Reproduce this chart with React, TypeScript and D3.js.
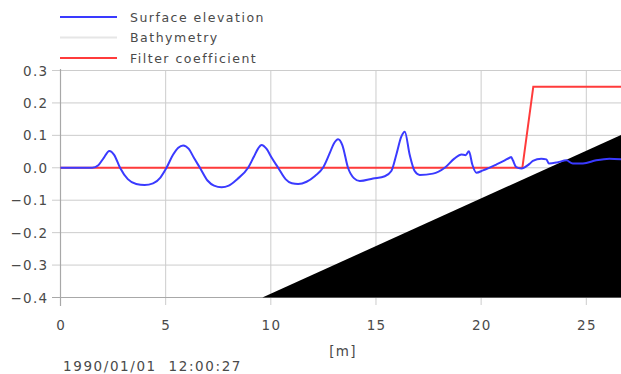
import React from "react";
import * as d3 from "d3";

const xTicks = [0, 5, 10, 15, 20, 25];
const yTicks = [0.3, 0.2, 0.1, 0.0, -0.1, -0.2, -0.3, -0.4];
const yTickLabels = ["0.3", "0.2", "0.1", "0.0", "\u22120.1", "\u22120.2", "\u22120.3", "\u22120.4"];

const surfX = [0, 1.5, 1.8, 2.05, 2.32, 2.55, 2.83, 3.2, 3.6, 4.0, 4.4, 4.75, 5.04, 5.35, 5.6, 5.83, 6.1, 6.35, 6.63, 7.0, 7.3, 7.66, 8.0, 8.4, 8.92, 9.2, 9.4, 9.56, 9.8, 10.05, 10.35, 10.7, 11.0, 11.3, 11.7, 12.1, 12.48, 12.8, 13.0, 13.2, 13.4, 13.67, 13.95, 14.23, 14.86, 15.42, 15.73, 15.97, 16.2, 16.37, 16.6, 16.84, 17.08, 17.71, 18.27, 18.74, 19.06, 19.26, 19.42, 19.58, 19.77, 20.09, 20.72, 21.1, 21.35, 21.43, 21.51, 21.67, 21.91, 22.3, 22.46, 22.86, 23.1, 23.22, 23.65, 24.05, 24.36, 24.84, 25.47, 26.1, 26.65];
const surfY = [0, 0, 0.008, 0.03, 0.052, 0.04, 0.0, -0.035, -0.05, -0.053, -0.048, -0.03, 0.0, 0.04, 0.062, 0.069, 0.058, 0.03, 0.0, -0.04, -0.055, -0.06, -0.055, -0.035, 0.0, 0.035, 0.06, 0.07, 0.058, 0.03, 0.0, -0.035, -0.048, -0.05, -0.043, -0.025, 0.0, 0.045, 0.075, 0.088, 0.07, 0.0, -0.032, -0.041, -0.033, -0.026, -0.01, 0.041, 0.095, 0.111, 0.041, -0.01, -0.022, -0.018, 0.0, 0.029, 0.041, 0.039, 0.051, 0.01, -0.015, -0.008, 0.01, 0.022, 0.031, 0.033, 0.023, 0.002, -0.002, 0.012, 0.021, 0.028, 0.026, 0.013, 0.017, 0.023, 0.013, 0.013, 0.023, 0.028, 0.026];

const filterX = [0, 21.96, 22.48, 26.65];
const filterY = [0, 0, 0.25, 0.25];

const bathyX = [9.6, 26.65];
const bathyY = [-0.4, 0.101];

const legendLabels = ["Surface elevation", "Bathymetry", "Filter coefficient"];
const legendColors = ["#3a3aff", "#e6e6e6", "#ff3b3b"];

export default function App() {
  const W = 621, H = 374;
  const x = d3.scaleLinear().domain([0, 26.65]).range([60.5, 621]);
  const y = d3.scaleLinear().domain([-0.4, 0.3]).range([297.5, 70.5]);
  const font = "'DejaVu Sans', sans-serif";
  const textColor = "#4a4a4a";
  const ls = 1.2;

  const surf = surfX.map((v, i) => [v, surfY[i]] as [number, number]);
  const filt = filterX.map((v, i) => [v, filterY[i]] as [number, number]);
  const lineGen = d3.line<[number, number]>().x(d => x(d[0])).y(d => y(d[1]));
  const smoothGen = d3.line<[number, number]>().x(d => x(d[0])).y(d => y(d[1])).curve(d3.curveMonotoneX);

  const bathyPts: [number, number][] = [[bathyX[0], bathyY[0]], [bathyX[1], bathyY[1]], [bathyX[1], -0.4]];
  const areaPath = "M" + bathyPts.map(p => `${x(p[0])},${y(p[1])}`).join("L") + "Z";

  return (
    <svg width={W} height={H} style={{ position: "absolute", left: 0, top: 0, background: "#fff" }}>
      {/* legend */}
      {legendLabels.map((l, i) => (
        <g key={l}>
          <line x1={60} x2={117} y1={17 + i * 20.5} y2={17 + i * 20.5} stroke={legendColors[i]} strokeWidth={2} />
          <text x={130} y={21.5 + i * 20.5} fontFamily={font} fontSize={12.5} letterSpacing={1.5} fill={textColor}>{l}</text>
        </g>
      ))}
      {/* grid */}
      {yTicks.map(t => (
        <line key={"gy" + t} x1={52} x2={621} y1={y(t)} y2={y(t)} stroke="#cccccc" strokeWidth={1} />
      ))}
      {xTicks.map(t => (
        <line key={"gx" + t} x1={x(t)} x2={x(t)} y1={70.5} y2={305} stroke="#cccccc" strokeWidth={1} />
      ))}
      {/* axes */}
      <line x1={x(0)} x2={x(0)} y1={69} y2={306} stroke="#a8a8a8" strokeWidth={1.2} />
      <line x1={52} x2={621} y1={y(-0.4)} y2={y(-0.4)} stroke="#a8a8a8" strokeWidth={1.2} />
      {yTicks.map((t, i) => (
        <text key={"ty" + t} x={47 + ls} y={y(t) + 5} textAnchor="end" fontFamily={font} fontSize={13.5} letterSpacing={ls} fill={textColor}>{yTickLabels[i]}</text>
      ))}
      {xTicks.map(t => (
        <text key={"tx" + t} x={x(t) + ls / 2} y={330} textAnchor="middle" fontFamily={font} fontSize={13.5} letterSpacing={ls} fill={textColor}>{t}</text>
      ))}
      <text x={343} y={356} textAnchor="middle" fontFamily={font} fontSize={13.5} letterSpacing={ls} fill={textColor}>[m]</text>
      <text x={63} y={371} fontFamily={font} fontSize={13.5} letterSpacing={1.6} fill={textColor} style={{ whiteSpace: "pre" }}>1990/01/01  12:00:27</text>
      {/* bathymetry */}
      <path d={areaPath} fill="#000" />
      {/* filter coefficient */}
      <path d={lineGen(filt) || ""} fill="none" stroke="#ff3b3b" strokeWidth={2} />
      {/* surface */}
      <path d={smoothGen(surf) || ""} fill="none" stroke="#3a3aff" strokeWidth={2} />
    </svg>
  );
}
